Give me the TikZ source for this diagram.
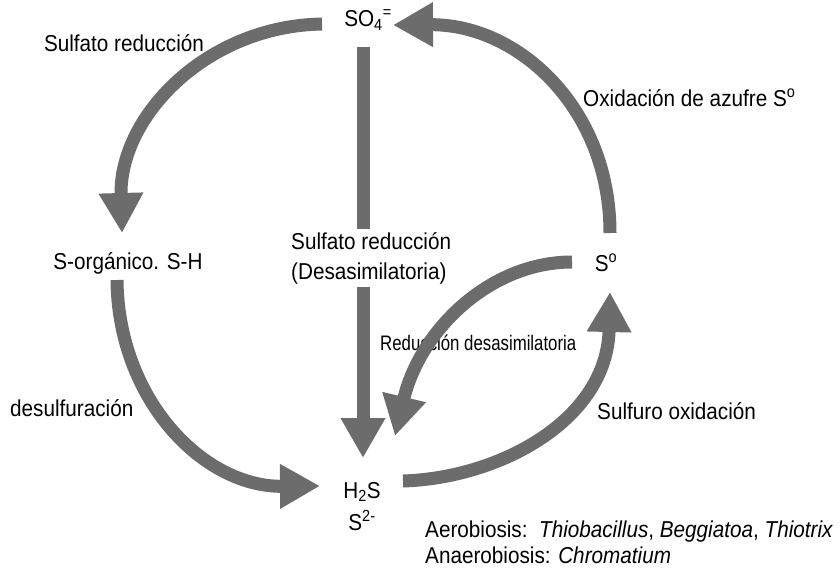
\documentclass[tikz,border=0pt]{standalone}
\usepackage{fontspec}
\setmainfont[FakeStretch=0.9]{Liberation Sans}
\newfontfamily\narrowfont[FakeStretch=0.8]{Liberation Sans}
\usetikzlibrary{arrows.meta}
\definecolor{arrowgray}{RGB}{108,108,108}
\tikzset{
  lbl/.style={inner sep=0pt, font=\fontsize{23}{30}\selectfont},
  bigarrow/.style={draw=arrowgray, line width=13pt, -{Triangle[width=42pt,length=40pt]}, arrowgray},
}
\begin{document}
\begin{tikzpicture}[x=1pt,y=-1pt]
\fill[white] (0,0) rectangle (840,573);
\useasboundingbox (0,0) rectangle (840,573);

% species
\node[lbl] (so4) at (368,20) {SO\textsubscript{4}\textsuperscript{=}};
\node[lbl] (sorg) at (128,263) {S-orgánico. S-H};
\node[lbl] (s0) at (606,263) {S\textsuperscript{o}};
\node[lbl] (h2s) at (362,492) {H\textsubscript{2}S};
\node[lbl] (s2) at (362,520) {S\textsuperscript{2-}};

% process labels
\node[lbl] (l1) at (124,43) {Sulfato reducción};
\node[lbl, anchor=west] (l2) at (583,98) {Oxidación de azufre S\textsuperscript{o}};
\node[lbl, anchor=west] (l3) at (10,408) {desulfuración};
\node[lbl, anchor=west] (l4) at (597,411) {Sulfuro oxidación};
\node[inner sep=0pt, anchor=west, font=\narrowfont\fontsize{21}{24}\selectfont] (l5) at (380,343) {Reducción desasimilatoria};

% arrow end points
\coordinate (a1s) at (322,24);  \coordinate (a1e) at (122,233);
\coordinate (a2s) at (610,233); \coordinate (a2e) at (393,25);
\coordinate (a3s) at (363,47);  \coordinate (a3e) at (363,458);
\coordinate (a4s) at (117,280); \coordinate (a4e) at (320,486);
\coordinate (a5s) at (403,481); \coordinate (a5e) at (610,292);
\coordinate (a6s) at (572,262); \coordinate (a6e) at (395,436);

% vertical arrow with label over it
\draw[bigarrow] (a3s) -- (a3e);
\node[lbl, anchor=west, align=left, fill=white, inner sep=3pt] (lc) at (288,258) {Sulfato reducción\\(Desasimilatoria)};

% curved arrows
\draw[bigarrow] (a1s) .. controls (206,26) and (119,117) .. (a1e);
\draw[bigarrow] (a2s) .. controls (610,108) and (518,24) .. (a2e);
\draw[bigarrow] (a4s) .. controls (118,398) and (202,487) .. (a4e);
\draw[bigarrow] (a5s) .. controls (500,478) and (607,420) .. (a5e);
\draw[bigarrow] (a6s) .. controls (490,262) and (420,330) .. (a6e);

% organisms
\node[lbl, anchor=west] (aero) at (425,532) {Aerobiosis:\ \ \textit{Thiobacillus}, \textit{Beggiatoa}, \textit{Thiotrix}};
\node[lbl, anchor=west] (anaer) at (425,555) {Anaerobiosis: \textit{Chromatium}};
\end{tikzpicture}
\end{document}
